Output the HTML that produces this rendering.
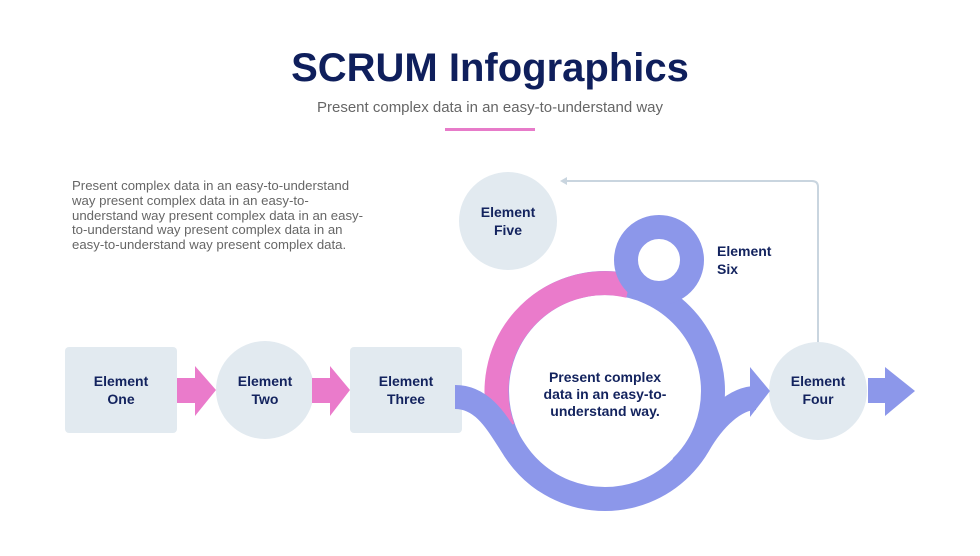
<!DOCTYPE html>
<html><head><meta charset="utf-8"><style>
body{margin:0;width:980px;height:551px;background:#fff;overflow:hidden;font-family:"Liberation Sans",sans-serif}
</style></head><body>
<svg width="980" height="551" viewBox="0 0 980 551" xmlns="http://www.w3.org/2000/svg" font-family="Liberation Sans, sans-serif">
<text x="490" y="81" text-anchor="middle" font-size="40" font-weight="bold" fill="#0f1f5c">SCRUM Infographics</text>
<text x="490" y="112" text-anchor="middle" font-size="15" fill="#666">Present complex data in an easy-to-understand way</text>
<rect x="445" y="128" width="90" height="3" fill="#e77bc9"/>
<g font-size="13.2" fill="#666">
<text x="72" y="190">Present complex data in an easy-to-understand</text>
<text x="72" y="205">way present complex data in an easy-to-</text>
<text x="72" y="220">understand way present complex data in an easy-</text>
<text x="72" y="234">to-understand way present complex data in an</text>
<text x="72" y="249">easy-to-understand way present complex data.</text>
</g>
<path d="M818 342 V187 Q818 181 812 181 H566" fill="none" stroke="#c9d5df" stroke-width="2"/>
<polygon points="560,181 567,177 567,185" fill="#c9d5df"/>
<rect x="65" y="347" width="112" height="86" rx="4" fill="#e2eaf0"/>
<circle cx="265" cy="390" r="49" fill="#e2eaf0"/>
<rect x="350" y="347" width="112" height="86" rx="4" fill="#e2eaf0"/>
<circle cx="508" cy="221" r="49" fill="#e2eaf0"/>
<circle cx="818" cy="391" r="49" fill="#e2eaf0"/>
<polygon points="177,378 195,378 195,366 216,390 195,416 195,403 177,403" fill="#ea7bcb"/>
<polygon points="312,378 330,378 330,366 350,390 330,416 330,403 312,403" fill="#ea7bcb"/>
<circle cx="605" cy="391" r="108" fill="none" stroke="#8c97ea" stroke-width="24"/>
<path d="M503 428 A108 108 0 0 1 629 286" fill="none" stroke="#ea7bcb" stroke-width="24"/>
<circle cx="659" cy="260" r="33" fill="none" stroke="#8c97ea" stroke-width="24"/>
<path d="M455 397 C490 397 503 437 522 460 A108 108 0 0 0 545 481" fill="none" stroke="#8c97ea" stroke-width="24"/>
<path d="M681 467 A108 108 0 0 0 698.5 445 C713.5 419 735 398 756 398" fill="none" stroke="#8c97ea" stroke-width="24"/>
<polygon points="750,367 770,391 750,417" fill="#8c97ea"/>
<polygon points="868,378 885,378 885,367 915,391 885,416 885,403 868,403" fill="#8c97ea"/>
<g font-size="14" font-weight="bold" fill="#13235e" text-anchor="middle">
<text x="121" y="386">Element</text><text x="121" y="404">One</text>
<text x="265" y="386">Element</text><text x="265" y="404">Two</text>
<text x="406" y="386">Element</text><text x="406" y="404">Three</text>
<text x="508" y="217">Element</text><text x="508" y="235">Five</text>
<text x="818" y="386">Element</text><text x="818" y="404">Four</text>
<text x="605" y="382">Present complex</text>
<text x="605" y="399">data in an easy-to-</text>
<text x="605" y="416">understand way.</text>
<text x="717" y="256" text-anchor="start">Element</text>
<text x="717" y="274" text-anchor="start">Six</text>
</g>
</svg>
</body></html>
